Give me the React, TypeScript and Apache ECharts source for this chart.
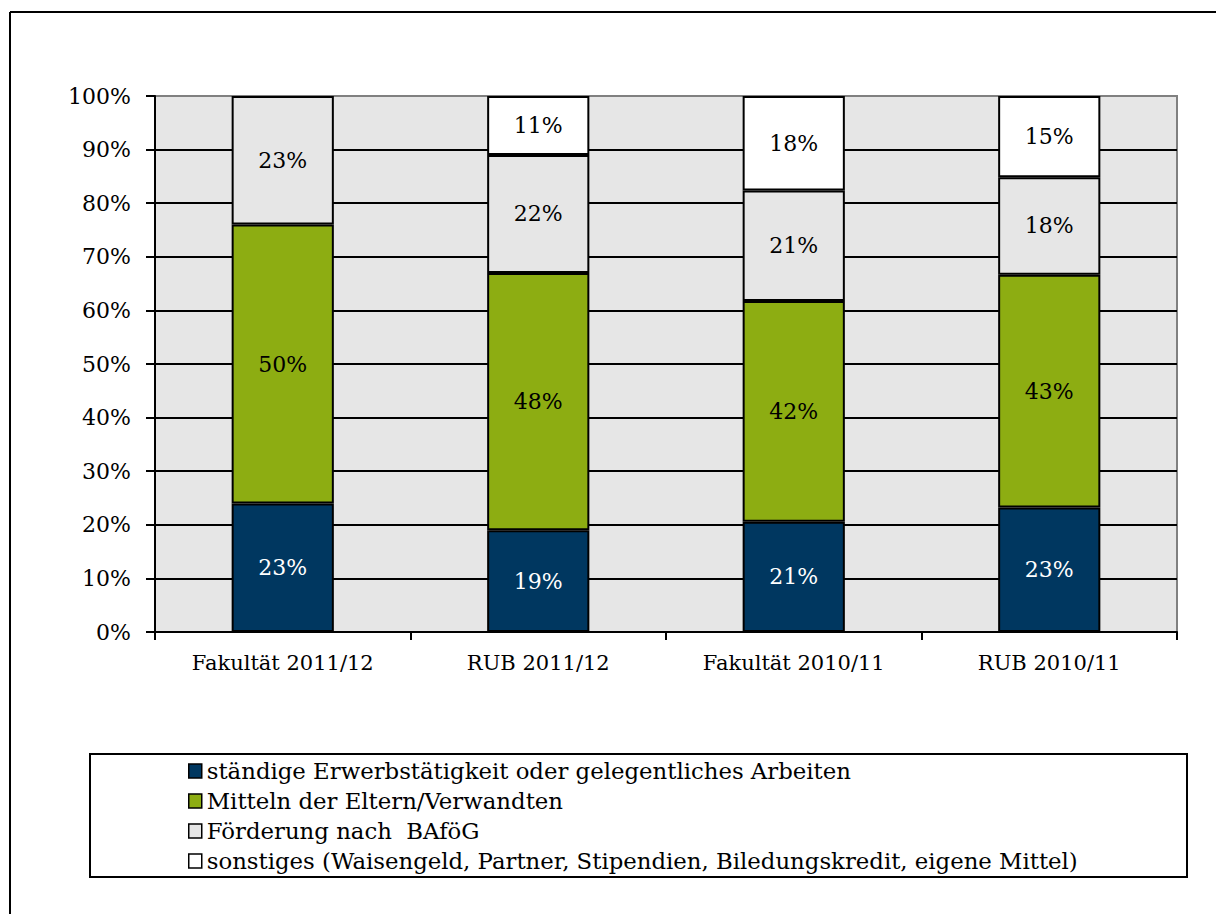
import React, { useEffect, useRef } from "react";
import * as echarts from "echarts";

const categories = ["Fakultät 2011/12", "RUB 2011/12", "Fakultät 2010/11", "RUB 2010/11"];
const seriesNames = [
  "ständige Erwerbstätigkeit oder gelegentliches Arbeiten",
  "Mitteln der Eltern/Verwandten",
  "Förderung nach  BAföG",
  "sonstiges (Waisengeld, Partner, Stipendien, Biledungskredit, eigene Mittel)",
];
const erwerb = [23, 19, 21, 23];
const eltern = [50, 48, 42, 43];
const bafoeg = [23, 22, 21, 18];
const sonstiges = [0, 11, 18, 15];
const colors = ["#003760", "#8dad12", "#e6e6e6", "#ffffff"];
const labelColors = ["#ffffff", "#000000", "#000000", "#000000"];
const yTicks = [0, 10, 20, 30, 40, 50, 60, 70, 80, 90, 100];

const FONT = "DejaVu Serif";

export default function App() {
  const ref = useRef<HTMLDivElement>(null);
  useEffect(() => {
    document.body.style.margin = "0";
    const chart = echarts.init(ref.current!, null, { renderer: "svg" });
    const raw = [erwerb, eltern, bafoeg, sonstiges];
    const totals = categories.map((_, j) => raw.reduce((s, arr) => s + arr[j], 0));
    const series = raw.map((arr, i) => ({
      name: seriesNames[i],
      type: "bar",
      stack: "total",
      barWidth: "40%",
      data: arr.map((v, j) => (v === 0 ? null : { value: (v / totals[j]) * 100, raw: v })),
      itemStyle: { color: colors[i], borderColor: "#000", borderWidth: 2 },
      label: {
        show: true,
        position: "inside",
        color: labelColors[i],
        fontFamily: FONT,
        fontSize: 22,
        formatter: (p: any) => (p.data && p.data.raw ? p.data.raw + "%" : ""),
      },
    }));
    const splitColors = yTicks.map((t) => (t === 100 ? "#808080" : "#000000"));
    chart.setOption({
      animation: false,
      textStyle: { fontFamily: FONT },
      grid: {
        left: 155,
        top: 96,
        right: 39,
        bottom: 282,
        show: true,
        backgroundColor: "#e6e6e6",
        borderColor: "#808080",
        borderWidth: 2,
      },
      xAxis: {
        type: "category",
        data: categories,
        axisLine: { lineStyle: { color: "#000", width: 2 } },
        axisTick: { show: true, length: 8, lineStyle: { color: "#000", width: 2 } },
        axisLabel: { color: "#000", fontFamily: FONT, fontSize: 21, margin: 20 },
      },
      yAxis: {
        type: "value",
        min: 0,
        max: 100,
        interval: 10,
        axisLine: { show: true, lineStyle: { color: "#000", width: 2 } },
        axisTick: { show: true, length: 9, lineStyle: { color: "#000", width: 2 } },
        axisLabel: { color: "#000", fontFamily: FONT, fontSize: 22, margin: 24, formatter: "{value}%" },
        splitLine: { show: true, lineStyle: { color: splitColors, width: 2 } },
      },
      legend: {
        orient: "vertical",
        left: 183,
        top: 754,
        itemWidth: 13,
        itemHeight: 14,
        itemGap: 6,
        icon: "rect",
        itemStyle: { borderColor: "#000", borderWidth: 1.5 },
        textStyle: { color: "#000", fontFamily: FONT, fontSize: 22.8, lineHeight: 24 },
        selectedMode: false,
      },
      graphic: [
        {
          type: "rect",
          shape: { x: 90, y: 754, width: 1097, height: 123 },
          style: { fill: "none", stroke: "#000", lineWidth: 2 },
          z: -1,
        },
        {
          type: "line",
          shape: { x1: 10, y1: 12, x2: 1216, y2: 12 },
          style: { stroke: "#000", lineWidth: 2 },
        },
        {
          type: "line",
          shape: { x1: 10, y1: 12, x2: 10, y2: 914 },
          style: { stroke: "#000", lineWidth: 2 },
        },
      ],
      series,
    });
    return () => chart.dispose();
  }, []);
  return <div ref={ref} style={{ width: 1216, height: 914 }} />;
}
